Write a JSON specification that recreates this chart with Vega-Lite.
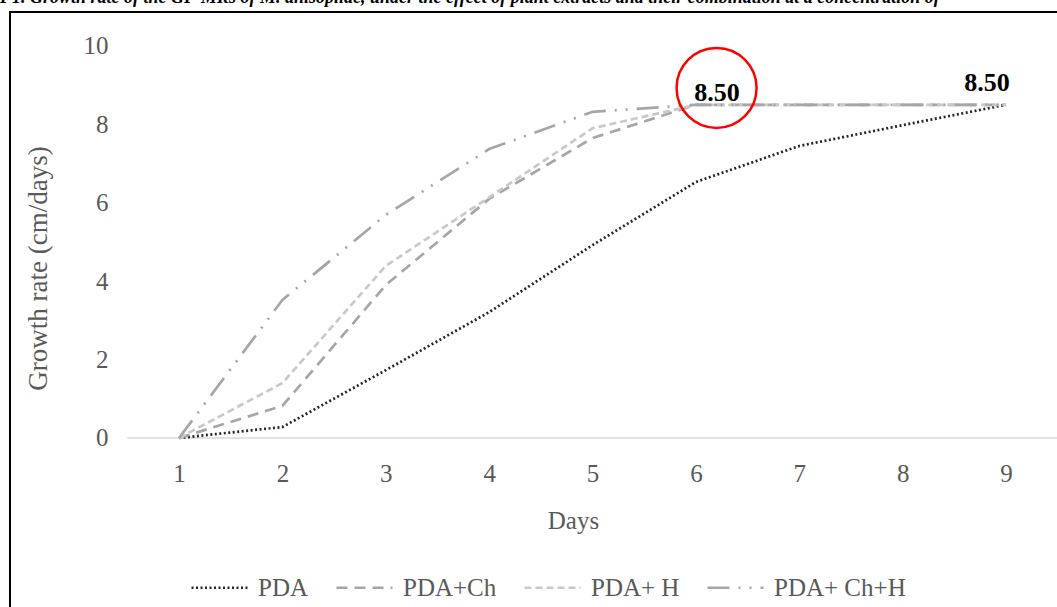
{
  "$schema": "https://vega.github.io/schema/vega-lite/v6.json",
  "autosize": "none",
  "padding": {"left": 10, "top": 12, "right": 0, "bottom": 0},
  "width": 1050,
  "height": 598,
  "background": "white",
  "config": {
    "view": {"stroke": "#000000", "strokeWidth": 2},
    "font": "Liberation Serif"
  },
  "title": {
    "text": "F1. Growth rate of the GP-MRs of M. anisopliae, under the effect of plant extracts and their combination at a concentration of",
    "anchor": "start",
    "frame": "group",
    "font": "Liberation Serif",
    "fontSize": 18,
    "fontWeight": "bold",
    "fontStyle": "italic",
    "color": "#000000",
    "offset": 5,
    "dx": -10
  },
  "datasets": {
    "growth": [
      {"day": 1, "series": "PDA", "rate": 0},
      {"day": 2, "series": "PDA", "rate": 0.28},
      {"day": 3, "series": "PDA", "rate": 1.73},
      {"day": 4, "series": "PDA", "rate": 3.21},
      {"day": 5, "series": "PDA", "rate": 4.92},
      {"day": 6, "series": "PDA", "rate": 6.53},
      {"day": 7, "series": "PDA", "rate": 7.45},
      {"day": 8, "series": "PDA", "rate": 7.98},
      {"day": 9, "series": "PDA", "rate": 8.5},
      {"day": 1, "series": "PDA+Ch", "rate": 0},
      {"day": 2, "series": "PDA+Ch", "rate": 0.82},
      {"day": 3, "series": "PDA+Ch", "rate": 3.9},
      {"day": 4, "series": "PDA+Ch", "rate": 6.1},
      {"day": 5, "series": "PDA+Ch", "rate": 7.65},
      {"day": 6, "series": "PDA+Ch", "rate": 8.5},
      {"day": 7, "series": "PDA+Ch", "rate": 8.5},
      {"day": 8, "series": "PDA+Ch", "rate": 8.5},
      {"day": 9, "series": "PDA+Ch", "rate": 8.5},
      {"day": 1, "series": "PDA+ H", "rate": 0},
      {"day": 2, "series": "PDA+ H", "rate": 1.4},
      {"day": 3, "series": "PDA+ H", "rate": 4.39},
      {"day": 4, "series": "PDA+ H", "rate": 6.14},
      {"day": 5, "series": "PDA+ H", "rate": 7.9},
      {"day": 6, "series": "PDA+ H", "rate": 8.5},
      {"day": 7, "series": "PDA+ H", "rate": 8.5},
      {"day": 8, "series": "PDA+ H", "rate": 8.5},
      {"day": 9, "series": "PDA+ H", "rate": 8.5},
      {"day": 1, "series": "PDA+ Ch+H", "rate": 0},
      {"day": 2, "series": "PDA+ Ch+H", "rate": 3.52},
      {"day": 3, "series": "PDA+ Ch+H", "rate": 5.69},
      {"day": 4, "series": "PDA+ Ch+H", "rate": 7.37},
      {"day": 5, "series": "PDA+ Ch+H", "rate": 8.32},
      {"day": 6, "series": "PDA+ Ch+H", "rate": 8.5},
      {"day": 7, "series": "PDA+ Ch+H", "rate": 8.5},
      {"day": 8, "series": "PDA+ Ch+H", "rate": 8.5},
      {"day": 9, "series": "PDA+ Ch+H", "rate": 8.5}
    ],
    "labels": [
      {"day": 6, "rate": 8.5, "label": "8.50", "which": "first"},
      {"day": 9, "rate": 8.5, "label": "8.50", "which": "last"}
    ],
    "circle": [
      {"day": 6.2, "rate": 8.93}
    ],
    "baseline": [
      {"x": 0.5, "x2": 9.6, "rate": 0}
    ]
  },
  "layer": [
    {
      "data": {"name": "baseline"},
      "mark": {"type": "rule", "color": "#d9d9d9", "strokeWidth": 1.5},
      "encoding": {
        "x": {"field": "x", "type": "quantitative"},
        "x2": {"field": "x2"},
        "y": {"field": "rate", "type": "quantitative"}
      }
    },
    {
      "data": {"name": "growth"},
      "mark": {"type": "line", "strokeWidth": 2.7, "strokeCap": "butt"},
      "encoding": {
        "x": {
          "field": "day",
          "type": "quantitative",
          "scale": {"domain": [-0.6348, 9.522], "nice": false, "zero": false},
          "axis": {
            "orient": "bottom",
            "offset": -172,
            "values": [1, 2, 3, 4, 5, 6, 7, 8, 9],
            "format": "d",
            "domain": false,
            "ticks": false,
            "tickSize": 0,
            "grid": false,
            "labelPadding": 23,
            "labelFont": "Liberation Serif",
            "labelFontSize": 25,
            "labelColor": "#595959",
            "title": "Days",
            "titleFont": "Liberation Serif",
            "titleFontSize": 25,
            "titleFontWeight": "normal",
            "titleColor": "#595959",
            "titleX": 563,
            "titleY": 90,
            "titleBaseline": "alphabetic",
            "titleAlign": "center"
          }
        },
        "y": {
          "field": "rate",
          "type": "quantitative",
          "scale": {"domain": [-4.388, 10.867], "nice": false, "zero": false},
          "axis": {
            "orient": "left",
            "offset": -108,
            "values": [0, 2, 4, 6, 8, 10],
            "domain": false,
            "ticks": false,
            "tickSize": 0,
            "grid": false,
            "labelPadding": 10,
            "labelFont": "Liberation Serif",
            "labelFontSize": 25,
            "labelColor": "#595959",
            "title": "Growth rate (cm/days)",
            "titleFont": "Liberation Serif",
            "titleFontSize": 27,
            "titleFontWeight": "normal",
            "titleColor": "#595959",
            "titleAngle": -90,
            "titleX": -80,
            "titleY": 256,
            "titleAlign": "center",
            "titleBaseline": "middle"
          }
        },
        "color": {
          "field": "series",
          "type": "nominal",
          "scale": {
            "domain": ["PDA", "PDA+Ch", "PDA+ H", "PDA+ Ch+H"],
            "range": ["#262626", "#a6a6a6", "#c9c9c9", "#a6a6a6"]
          },
          "legend": {
            "title": null,
            "orient": "none",
            "direction": "horizontal",
            "legendX": 180,
            "legendY": 546,
            "symbolType": "stroke",
            "symbolSize": 3136,
            "symbolStrokeWidth": 2.5,
            "labelFont": "Liberation Serif",
            "labelFontSize": 25,
            "labelColor": "#595959",
            "labelOffset": 9,
            "columnPadding": 22
          }
        },
        "strokeDash": {
          "field": "series",
          "type": "nominal",
          "scale": {
            "domain": ["PDA", "PDA+Ch", "PDA+ H", "PDA+ Ch+H"],
            "range": [[2, 2.5], [11, 7], [7, 4], [22, 9, 2, 9, 2, 9]]
          },
          "legend": {
            "title": null,
            "orient": "none",
            "direction": "horizontal",
            "legendX": 180,
            "legendY": 546,
            "symbolType": "stroke",
            "symbolSize": 3136,
            "symbolStrokeWidth": 2.5,
            "labelFont": "Liberation Serif",
            "labelFontSize": 25,
            "labelColor": "#595959",
            "labelOffset": 9,
            "columnPadding": 22
          }
        }
      }
    },
    {
      "data": {"name": "labels"},
      "transform": [{"filter": "datum.which === 'first'"}],
      "mark": {"type": "text", "font": "Liberation Serif", "fontSize": 26, "fontWeight": "bold", "color": "#000000", "align": "center", "baseline": "alphabetic", "dx": 21, "dy": -4},
      "encoding": {
        "x": {"field": "day", "type": "quantitative"},
        "y": {"field": "rate", "type": "quantitative"},
        "text": {"field": "label"}
      }
    },
    {
      "data": {"name": "labels"},
      "transform": [{"filter": "datum.which === 'last'"}],
      "mark": {"type": "text", "font": "Liberation Serif", "fontSize": 26, "fontWeight": "bold", "color": "#000000", "align": "center", "baseline": "alphabetic", "dx": -19, "dy": -14},
      "encoding": {
        "x": {"field": "day", "type": "quantitative"},
        "y": {"field": "rate", "type": "quantitative"},
        "text": {"field": "label"}
      }
    },
    {
      "data": {"name": "circle"},
      "mark": {"type": "point", "shape": "circle", "filled": false, "size": 6400, "stroke": "#ff0000", "strokeWidth": 2.5, "opacity": 1},
      "encoding": {
        "x": {"field": "day", "type": "quantitative"},
        "y": {"field": "rate", "type": "quantitative"}
      }
    }
  ]
}
